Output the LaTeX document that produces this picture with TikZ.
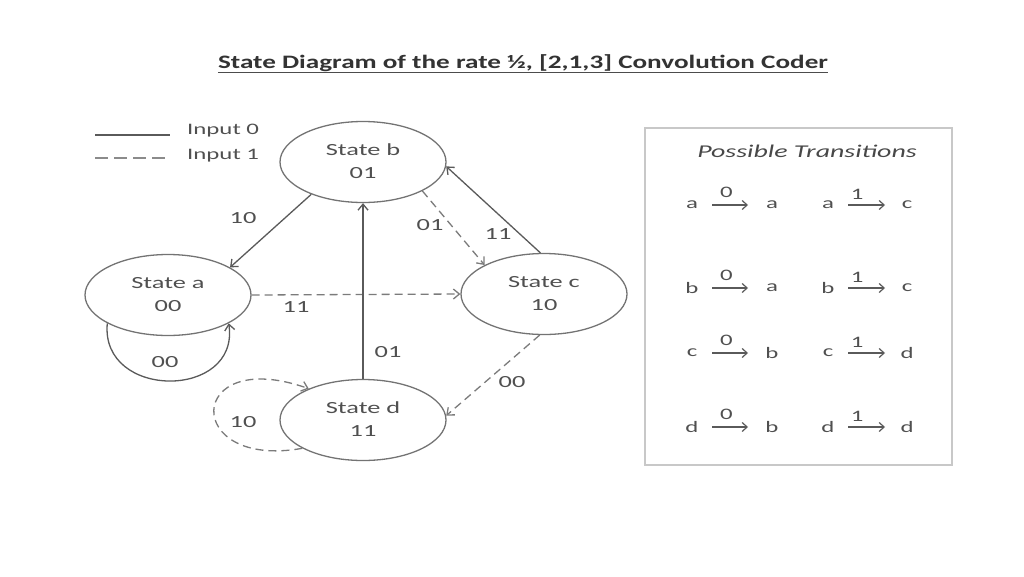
\documentclass[tikz,border=0pt]{standalone}
\usepackage{fontspec}
\usepackage{graphicx}
\setmainfont{Carlito}
\usetikzlibrary{arrows.meta,shapes.geometric}
\definecolor{ln}{HTML}{5A5A5A}
\definecolor{tx}{HTML}{505050}
\definecolor{bx}{HTML}{C8C8C8}
\newcommand\wx[1]{\scalebox{1.55}[1]{#1}}
\newcommand\wtwo[2]{\scalebox{1.55}[1]{\begin{tabular}{@{}c@{}}#1\\#2\end{tabular}}}
\begin{document}
\begin{tikzpicture}[x=1pt,y=-1pt,
  stbox/.style={ellipse,draw=ln!85,line width=1.3pt,minimum width=166pt,minimum height=81pt,inner sep=0pt,align=center,font=\fontsize{17}{23}\selectfont,text=tx},
  solidarr/.style={draw=ln,line width=1.3pt,-{Straight Barb[length=6pt,width=10pt]}},
  dasharr/.style={solidarr,draw=ln!80,dash pattern=on 8pt off 5pt},
  elabel/.style={font=\fontsize{17}{20}\selectfont,text=tx,inner sep=1pt},
  ltext/.style={font=\fontsize{16}{18}\selectfont,text=tx,inner sep=1pt},
  trarr/.style={draw=ln,line width=1.2pt,-{Straight Barb[length=5pt,width=9pt]}},
]
\useasboundingbox (0,0) rectangle (1024,576);

% title
\node[font=\fontsize{19}{24}\selectfont\bfseries,text=black!80,inner sep=0pt] (title) at (523,63) {\scalebox{1.43}[1]{State Diagram of the rate ½, [2,1,3] Convolution Coder}};
\draw[line width=1.2pt,black!70] ([yshift=-4pt]title.base west) -- ([yshift=-4pt]title.base east);

% legend
\coordinate (l0a) at (95,135); \coordinate (l0b) at (170,135);
\coordinate (l1a) at (95,158); \coordinate (l1b) at (170,158);
\draw[ln,line width=1.3pt] (l0a) -- (l0b);
\draw[ln!70,line width=1.3pt,dash pattern=on 13pt off 6pt] (l1a) -- (l1b);
\node[ltext,anchor=west] (in0) at (186,131) {\wx{Input 0}};
\node[ltext,anchor=west] (in1) at (186,156) {\wx{Input 1}};

% states
\node[stbox] (b) at (363,162) {\wtwo{State b}{01}};
\node[stbox] (a) at (168,295) {\wtwo{State a}{00}};
\node[stbox] (c) at (544,294) {\wtwo{State c}{10}};
\node[stbox] (d) at (363,420) {\wtwo{State d}{11}};

% transitions
\draw[solidarr] (b.212) -- (a.24);
\draw[dasharr] (b.334) -- (c.154);
\draw[solidarr] (c.95) -- (b.-3);
\draw[dasharr] (a.east) -- (c.west);
\draw[solidarr] (d.north) -- (b.south);
\draw[dasharr] (c.264) -- (d.3);
\draw[solidarr] (a.205) .. controls (100,400) and (240,400) .. (a.-25);
\draw[dasharr] (d.205) .. controls (182,470) and (185,345) .. (d.150);

% labels
\node[elabel] (t1) at (243,218) {\wx{10}};
\node[elabel] (t2) at (430,225) {\wx{01}};
\node[elabel] (t3) at (498,234) {\wx{11}};
\node[elabel] (t4) at (296,307) {\wx{11}};
\node[elabel] (t5) at (388,352) {\wx{01}};
\node[elabel] (t6) at (512,382) {\wx{00}};
\node[elabel] (t7) at (165,362) {\wx{00}};
\node[elabel] (t8) at (243,422) {\wx{10}};

% possible transitions box
\node[draw=bx,line width=2pt,minimum width=307pt,minimum height=337pt,inner sep=0pt] (box) at (798.5,296.5) {};
\node[font=\fontsize{18}{22}\selectfont\itshape,text=tx!90!black] (pt) at (807,151) {\wx{Possible Transitions}};

\foreach \i/\y/\sa/\da/\la/\sb/\db/\lbb in {1/205/a/a/0/a/c/1, 2/288/b/a/0/b/c/1, 3/353/c/b/0/c/d/1, 4/427/d/b/0/d/d/1}{
  \node[ltext] (s\i) at (692,\y) {\wx{\sa}};
  \node[ltext] (e\i) at (772,\y) {\wx{\da}};
  \draw[trarr,shorten <=20pt,shorten >=24pt] (s\i.center) -- node[ltext,above=6pt,pos=0.43] {\wx{\la}} (e\i.center);
  \node[ltext] (u\i) at (828,\y) {\wx{\sb}};
  \node[ltext] (v\i) at (907,\y) {\wx{\db}};
  \draw[trarr,shorten <=20pt,shorten >=22pt] (u\i.center) -- node[ltext,above=4pt,pos=0.37] {\wx{\lbb}} (v\i.center);
}
\end{tikzpicture}
\end{document}
